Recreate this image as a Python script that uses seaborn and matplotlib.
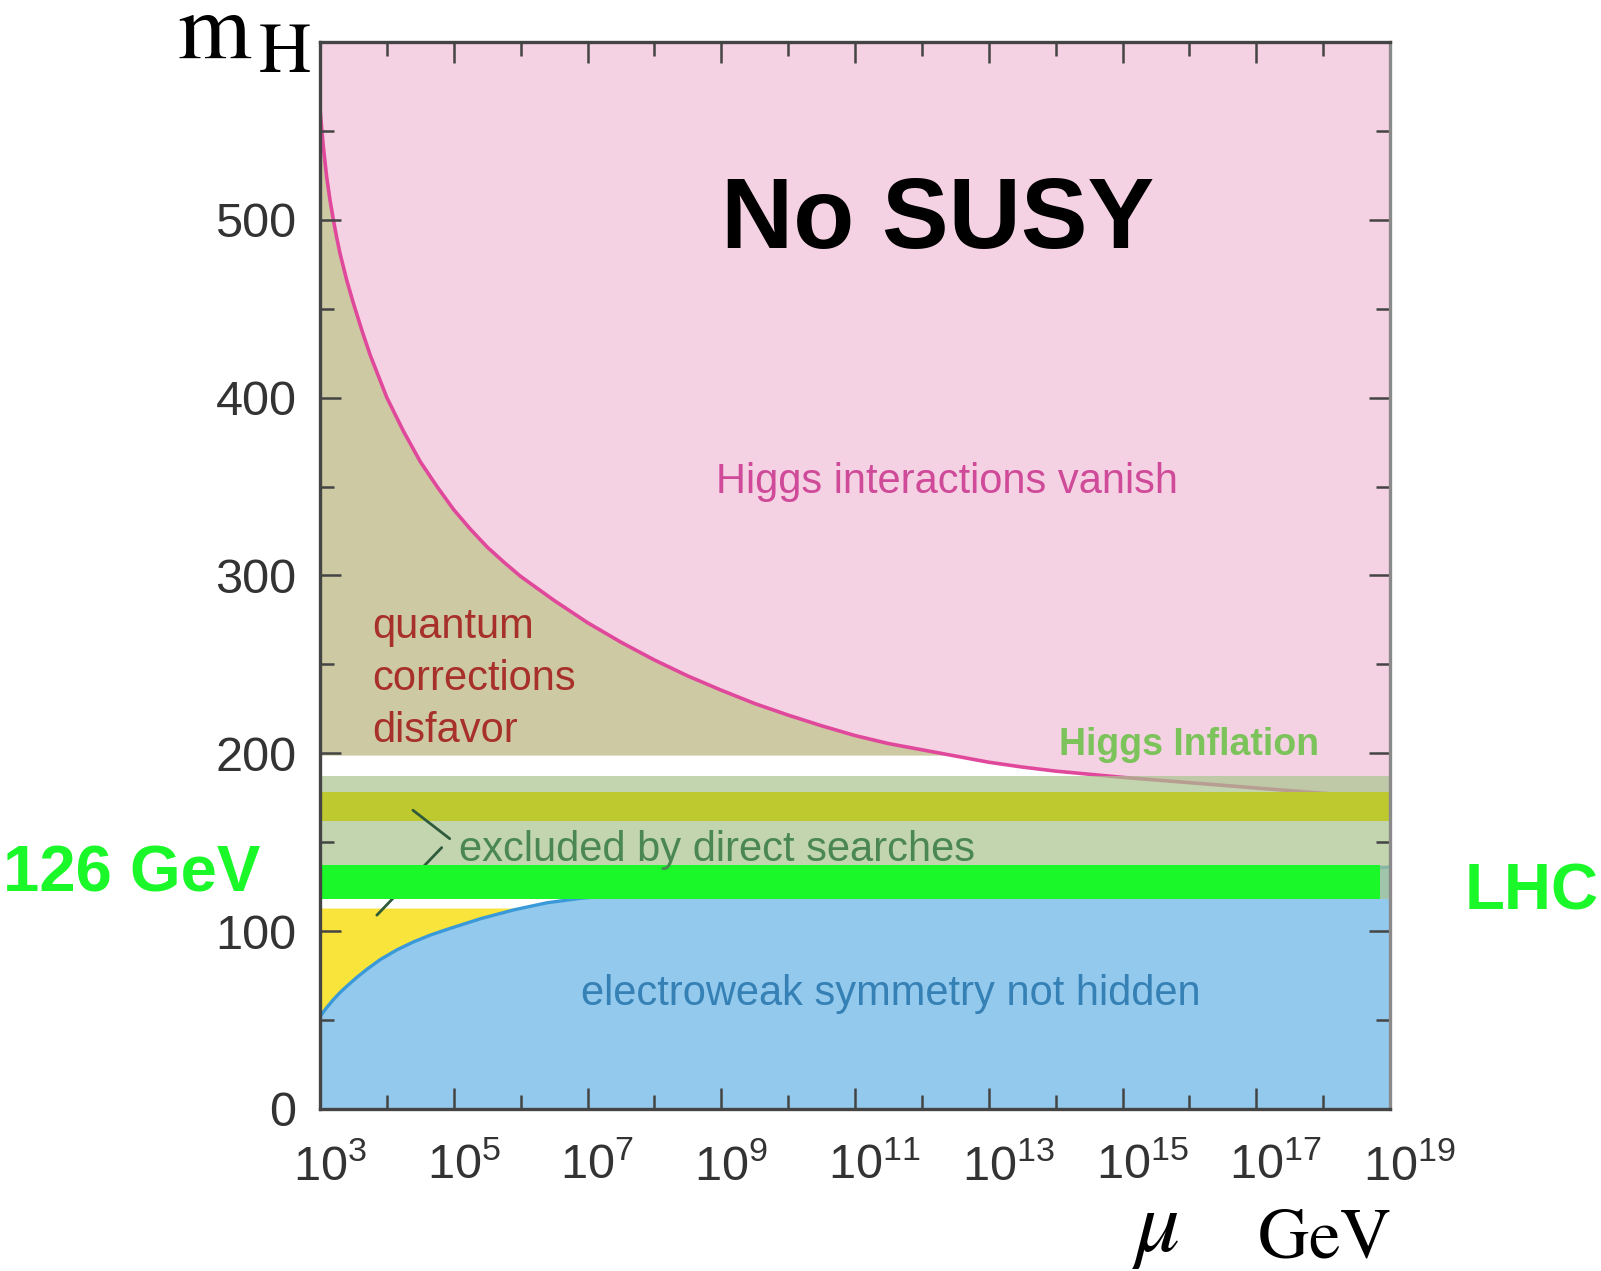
import numpy as np
import pandas as pd
import matplotlib
matplotlib.use("Agg")
import matplotlib.pyplot as plt
import seaborn as sns
from matplotlib.ticker import NullFormatter
from matplotlib.transforms import ScaledTranslation

# ---------------- data ----------------
# upper bound ("Higgs interactions vanish"), log10(mu/GeV) and m_H in GeV
upper_log_mu = [3.00, 3.05, 3.10, 3.15, 3.20, 3.25, 3.30, 3.40, 3.50, 3.625, 3.75, 3.875,
                4.00, 4.25, 4.50, 4.75, 5.00, 5.25, 5.50, 5.75, 6.00, 6.50, 7.00, 7.50,
                8.00, 8.50, 9.00, 9.50, 10.00, 10.50, 11.00, 11.50, 12.00, 12.50, 13.00,
                13.50, 14.00, 15.00, 16.00, 17.00, 18.00, 19.00]
upper_mH = [562, 541, 524, 511, 500, 490, 481, 466, 453, 438, 424, 412,
            400, 381, 364, 350, 337, 326, 316, 307.5, 299.5, 286, 273.5, 262.5,
            252.5, 243.5, 235.5, 228, 221.5, 215.5, 210, 205.5, 202, 198.5, 195,
            192.3, 190, 186.5, 183.5, 180.5, 177.5, 175]

# lower bound ("electroweak symmetry not hidden")
lower_log_mu = [3.0, 3.1, 3.2, 3.3, 3.4, 3.55, 3.7, 3.9, 4.15, 4.4, 4.65, 4.9, 5.4, 5.9,
                6.4, 6.9, 8.0, 10.0, 12.0, 14.0, 16.0, 18.0, 19.0]
lower_mH = [52, 57, 61.5, 65.5, 69, 74, 78.5, 84, 89.5, 94, 97.8, 101, 107, 112,
            116, 118.5, 122, 126, 129, 131, 133, 135, 136]

khaki_floor = 199            # lower edge of "quantum corrections disfavor"
yellow_top = 113             # upper edge of the yellow region
excluded_band = (118, 187)   # "excluded by direct searches"
tevatron_band = (162, 178)   # darker olive band
lhc_band = (118, 137)        # 126 GeV bar
lhc_log_mu_end = 18.85

chevron_log_mu = [[4.39, 4.94], [4.82, 3.85]]
chevron_mH = [[168, 152], [147, 109]]

x_major_exp = list(range(3, 20, 2))
x_minor_exp = list(range(4, 19, 2))
y_major = [0, 100, 200, 300, 400, 500]
y_minor = [50, 150, 250, 350, 450, 550]

# ---------------- style ----------------
sns.set_theme(style="ticks")
plt.rcParams["font.family"] = ["Liberation Sans", "DejaVu Sans"]
plt.rcParams["mathtext.fontset"] = "custom"
plt.rcParams["mathtext.rm"] = "Liberation Sans"
plt.rcParams["mathtext.it"] = "Liberation Sans:italic"
plt.rcParams["mathtext.bf"] = "Liberation Sans:bold"

PINK = "#F5D2E3"
PINK_LINE = "#E0489C"
KHAKI = "#CDC9A3"
BLUE_FILL = "#93C9EC"
BLUE_LINE = "#3A9AD9"
YELLOW = "#F8E43A"
BAND = (168 / 255, 196 / 255, 142 / 255)
OLIVE = "#BDC92F"
GREEN = "#1AF82A"

W, H = 1601, 1271
fig = plt.figure(figsize=(W / 100, H / 100), dpi=100)
fig.patch.set_facecolor("white")
ax = fig.add_axes([320 / W, 1 - 1109 / H, 1070 / W, 1067 / H])
ax.set_facecolor("white")
ax.set_xscale("log")

mu_u = 10 ** np.array(upper_log_mu)
mH_u = np.array(upper_mH, dtype=float)
mu_l = 10 ** np.array(lower_log_mu)
mH_l = np.array(lower_mH, dtype=float)

ax.fill_between(mu_u, mH_u, 600, color=PINK, lw=0, zorder=1)
ax.fill_between(mu_u, khaki_floor, mH_u, where=mH_u >= khaki_floor, interpolate=True,
                color=KHAKI, lw=0, zorder=1)
ax.fill_between(mu_l, 0, mH_l, color=BLUE_FILL, lw=0, zorder=1)
ax.fill_between(mu_l, mH_l, yellow_top, where=mH_l <= yellow_top, interpolate=True,
                color=YELLOW, lw=0, zorder=1)

df_u = pd.DataFrame({"mu": mu_u, "mH": mH_u})
df_l = pd.DataFrame({"mu": mu_l, "mH": mH_l})
sns.lineplot(data=df_u, x="mu", y="mH", color=PINK_LINE, lw=2.6, ax=ax, zorder=3)
sns.lineplot(data=df_l, x="mu", y="mH", color=BLUE_LINE, lw=2.4, ax=ax, zorder=3)

ax.axhspan(*excluded_band, color=BAND, alpha=0.7, lw=0, zorder=4)
ax.axhspan(*tevatron_band, color=OLIVE, lw=0, zorder=5)
for xs, ys in zip(chevron_log_mu, chevron_mH):
    ax.plot(10 ** np.array(xs), ys, color="#2F5B3C", lw=2.0, zorder=6)
ax.fill_between([10 ** 3, 10 ** lhc_log_mu_end], lhc_band[0], lhc_band[1],
                color=GREEN, lw=0, zorder=7)

ax.set_xlim(1e3, 1e19)
ax.set_ylim(0, 600)
ax.set_xlabel("")
ax.set_ylabel("")

ax.set_xticks([10.0 ** e for e in x_major_exp], labels=[f"$10^{{{e}}}$" for e in x_major_exp])
ax.set_xticks([10.0 ** e for e in x_minor_exp], minor=True)
ax.xaxis.set_minor_formatter(NullFormatter())
ax.set_yticks(y_major, labels=[str(v) for v in y_major])
ax.set_yticks(y_minor, minor=True)

ax.tick_params(which="both", direction="in", top=True, right=True, color="#444444",
               width=1.8, labelcolor="#333333")
ax.tick_params(which="major", length=15)
ax.tick_params(which="minor", length=10)
ax.tick_params(axis="y", labelsize=35, pad=17)
ax.tick_params(axis="x", labelsize=35, pad=25)
ax.xaxis.set_zorder(12)
ax.yaxis.set_zorder(12)
for lbl in ax.get_xticklabels():
    lbl.set_ha("left")
    lbl.set_transform(lbl.get_transform() + ScaledTranslation(-0.27, 0, fig.dpi_scale_trans))

for side, sp in ax.spines.items():
    sp.set_color("#444444" if side != "right" else "#8A8A8A")
    sp.set_linewidth(2.4)
    sp.set_zorder(13)
ax.grid(False)


def ftext(x, y, s, **kw):
    fig.text(x / W, 1 - y / H, s, **kw)


ftext(938, 248, "No SUSY", ha="center", va="baseline", fontsize=72, fontweight="bold", color="black")
ftext(947, 493, "Higgs interactions vanish", ha="center", va="baseline", fontsize=30, color="#CF4A98")
ftext(372, 638, "quantum", ha="left", va="baseline", fontsize=30, color="#A8302A")
ftext(372, 690, "corrections", ha="left", va="baseline", fontsize=30, color="#A8302A")
ftext(372, 742, "disfavor", ha="left", va="baseline", fontsize=30, color="#A8302A")
ftext(1189, 755, "Higgs Inflation", ha="center", va="baseline", fontsize=27, fontweight="bold",
      color="#7BC35A")
ftext(459, 861, "excluded by direct searches", ha="left", va="baseline", fontsize=30, color="#4A8752")
ftext(891, 1005, "electroweak symmetry not hidden", ha="center", va="baseline", fontsize=30,
      color="#3580B5")
ftext(3, 891, "126 GeV", ha="left", va="baseline", fontsize=47, fontweight="bold", color=GREEN)
ftext(1599, 909, "LHC", ha="right", va="baseline", fontsize=47, fontweight="bold", color=GREEN)

ftext(177, 58, r"$\mathrm{m}$", ha="left", va="baseline", fontsize=68, math_fontfamily="stix",
      color="black")
ftext(258, 72, r"$\mathrm{H}$", ha="left", va="baseline", fontsize=52, math_fontfamily="stix",
      color="black")
ftext(1156, 1251, r"$\mu$", ha="center", va="baseline", fontsize=64, math_fontfamily="stix",
      color="black")
ftext(1391, 1257, r"$\mathrm{GeV}$", ha="right", va="baseline", fontsize=51,
      math_fontfamily="stix", color="black")

fig.savefig("out.png", dpi=100, facecolor="white")
